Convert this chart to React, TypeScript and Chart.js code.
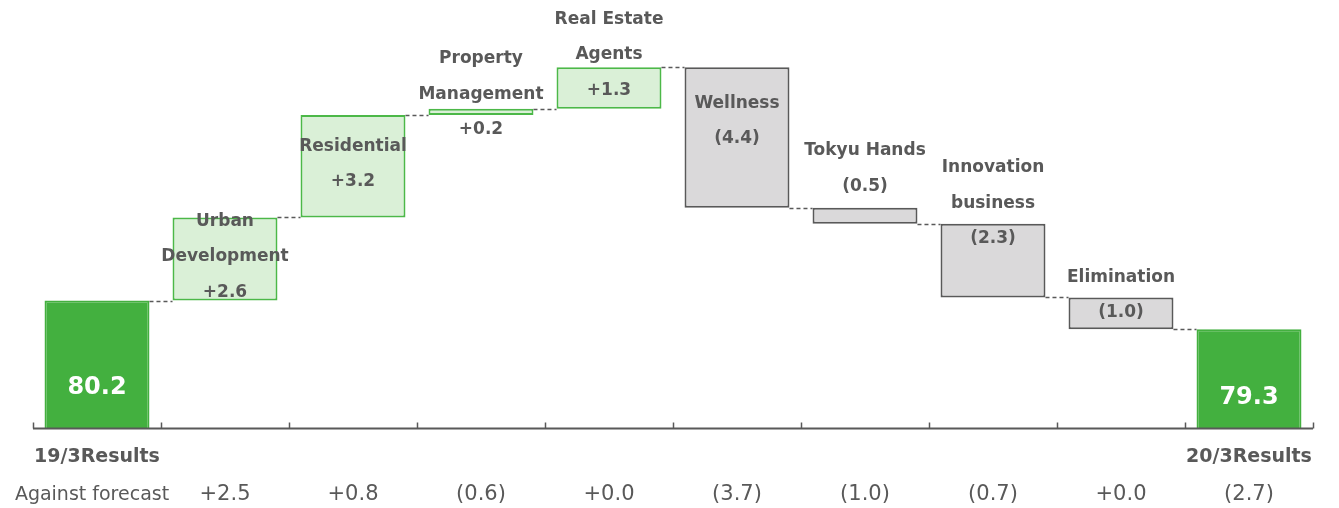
import React, { useEffect, useRef } from "react";
import { Chart, registerables } from "chart.js";

Chart.register(...registerables);

const categories = [
  "19/3Results",
  "Urban Development",
  "Residential",
  "Property Management",
  "Real Estate Agents",
  "Wellness",
  "Tokyu Hands",
  "Innovation business",
  "Elimination",
  "20/3Results",
];
const startTotal = 80.2;
const endTotal = 79.3;
const changes = [2.6, 3.2, 0.2, 1.3, -4.4, -0.5, -2.3, -1.0];
const valueLabels = ["80.2", "+2.6", "+3.2", "+0.2", "+1.3", "(4.4)", "(0.5)", "(2.3)", "(1.0)", "79.3"];
const nameLines: string[][] = [
  [],
  ["Urban", "Development"],
  ["Residential"],
  ["Property", "Management"],
  ["Real Estate", "Agents"],
  ["Wellness"],
  ["Tokyu Hands"],
  ["Innovation", "business"],
  ["Elimination"],
  [],
];
const forecastTitle = "Against forecast";
const forecastValues = ["+2.5", "+0.8", "(0.6)", "+0.0", "(3.7)", "(1.0)", "(0.7)", "+0.0", "(2.7)"];

// label placement (pixels relative to bar top) - styling only
const labelOffsets = [87, 4, 31, -50, -48, 36, -57, -56, -20, 68];
const LINE_GAP = 35.5;

const GREEN = "#43B03F";
const LIGHT_GREEN = "#DAF0D7";
const GREEN_BORDER = "#4CB848";
const GRAY_FILL = "#DAD9DA";
const DARK = "#595959";
const FONT = "'DejaVu Sans', Verdana, sans-serif";

export default function App() {
  const ref = useRef<HTMLCanvasElement | null>(null);

  useEffect(() => {
    if (!ref.current) return;
    const ranges: [number, number][] = [];
    const levels: number[] = [];
    ranges.push([0, startTotal]);
    levels.push(startTotal);
    let cur = startTotal;
    changes.forEach((c) => {
      const next = cur + c;
      ranges.push([Math.min(cur, next), Math.max(cur, next)]);
      levels.push(next);
      cur = next;
    });
    ranges.push([0, endTotal]);
    levels.push(endTotal);

    const bg = ranges.map((_, i) =>
      i === 0 || i === ranges.length - 1 ? GREEN : changes[i - 1] >= 0 ? LIGHT_GREEN : GRAY_FILL
    );
    const bc = ranges.map((_, i) =>
      i === 0 || i === ranges.length - 1 ? GREEN : changes[i - 1] >= 0 ? GREEN_BORDER : DARK
    );

    const overlay = {
      id: "overlay",
      afterDatasetsDraw(chart: any) {
        const ctx = chart.ctx;
        const meta = chart.getDatasetMeta(0);
        const xs = chart.scales.x;
        const ys = chart.scales.y;
        const area = chart.chartArea;
        ctx.save();
        // connectors
        ctx.strokeStyle = DARK;
        ctx.lineWidth = 1.5;
        ctx.setLineDash([4, 3]);
        for (let i = 0; i < meta.data.length - 1; i++) {
          const a = meta.data[i];
          const b = meta.data[i + 1];
          const y = Math.round(ys.getPixelForValue(levels[i])) + 0.5;
          ctx.beginPath();
          ctx.moveTo(a.x + a.width / 2, y);
          ctx.lineTo(b.x - b.width / 2, y);
          ctx.stroke();
        }
        ctx.setLineDash([]);
        // axis
        const yAxis = area.bottom;
        ctx.strokeStyle = DARK;
        ctx.lineWidth = 2;
        ctx.beginPath();
        ctx.moveTo(area.left, yAxis);
        ctx.lineTo(area.right, yAxis);
        ctx.stroke();
        const step = (area.right - area.left) / categories.length;
        ctx.lineWidth = 1.5;
        for (let i = 0; i <= categories.length; i++) {
          const x = Math.round(area.left + step * i) + 0.5;
          ctx.beginPath();
          ctx.moveTo(x, yAxis - 6);
          ctx.lineTo(x, yAxis);
          ctx.stroke();
        }
        // bar labels
        ctx.textAlign = "center";
        ctx.textBaseline = "middle";
        meta.data.forEach((bar: any, i: number) => {
          const top = Math.min(bar.y, bar.base);
          let y = top + labelOffsets[i];
          const cx = xs.getPixelForValue(i);
          if (i === 0 || i === meta.data.length - 1) {
            ctx.fillStyle = "#FFFFFF";
            ctx.font = `bold 24px ${FONT}`;
            ctx.fillText(valueLabels[i], cx, y);
            return;
          }
          ctx.fillStyle = DARK;
          ctx.font = `bold 17px ${FONT}`;
          nameLines[i].forEach((t) => {
            ctx.fillText(t, cx, y);
            y += LINE_GAP;
          });
          ctx.fillText(valueLabels[i], cx, y);
        });
        // bottom labels
        ctx.fillStyle = DARK;
        ctx.font = `bold 19px ${FONT}`;
        ctx.fillText(categories[0], xs.getPixelForValue(0), 457);
        ctx.fillText(categories[categories.length - 1], xs.getPixelForValue(categories.length - 1), 457);
        ctx.font = `19px ${FONT}`;
        ctx.fillText(forecastTitle, 92, 495);
        ctx.font = `21px ${FONT}`;
        forecastValues.forEach((v, k) => {
          ctx.fillText(v, xs.getPixelForValue(k + 1), 495);
        });
        ctx.restore();
      },
    };

    const chart = new Chart(ref.current, {
      type: "bar",
      data: {
        labels: categories,
        datasets: [
          {
            data: ranges as any,
            backgroundColor: bg,
            borderColor: bc,
            borderWidth: 2,
            borderSkipped: false,
            categoryPercentage: 1,
            barPercentage: 0.82,
          },
        ],
      },
      options: {
        animation: false,
        responsive: true,
        maintainAspectRatio: false,
        layout: { padding: { left: 33, right: 26, top: 0, bottom: 79.5 } },
        plugins: { legend: { display: false }, tooltip: { enabled: false } },
        scales: {
          x: { display: false },
          y: { display: false, min: 76.2, max: 89.6 },
        },
      },
      plugins: [overlay],
    });
    return () => chart.destroy();
  }, []);

  return (
    <div style={{ position: "absolute", left: 0, top: 0, width: 1339, height: 508, background: "#fff" }}>
      <canvas ref={ref} />
    </div>
  );
}
